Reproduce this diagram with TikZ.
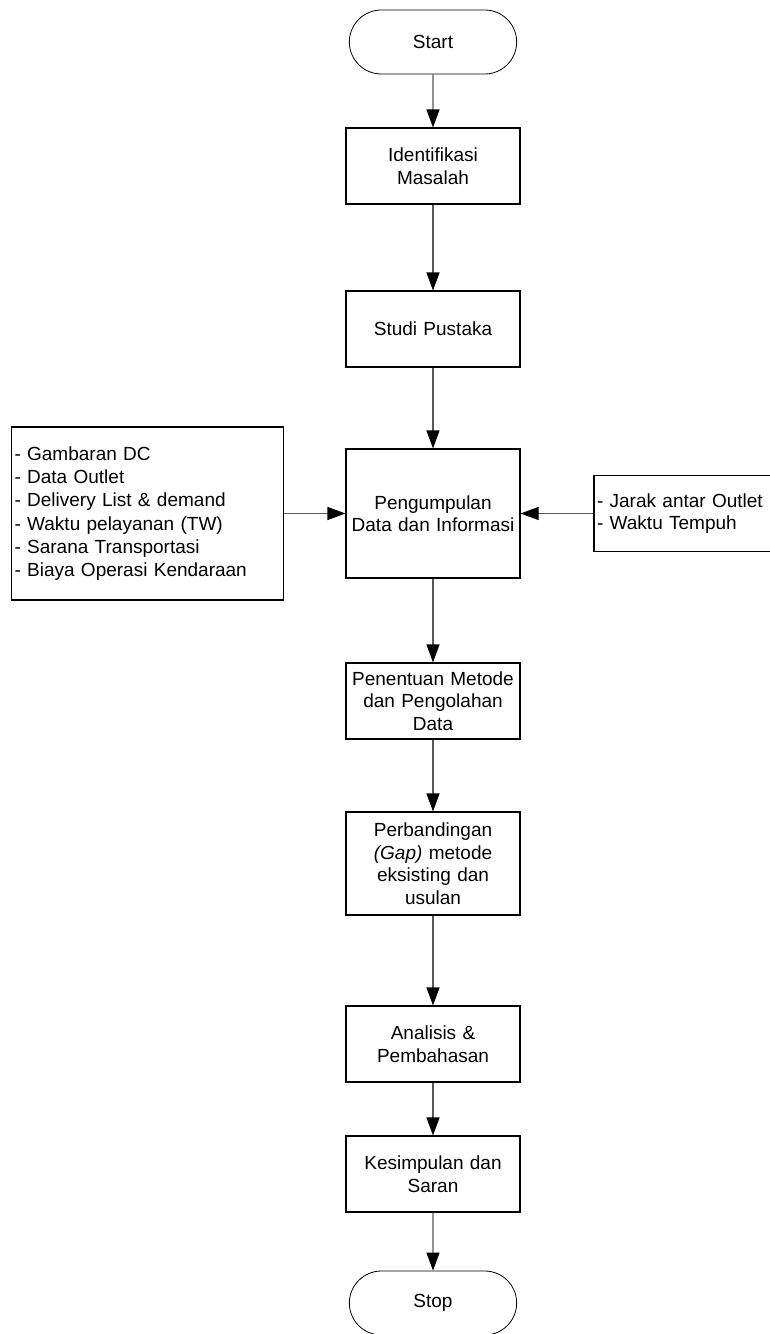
\documentclass[tikz,border=0pt]{standalone}
\usepackage{fontspec}
\setmainfont{Liberation Sans}
\usetikzlibrary{arrows.meta, shapes.misc}

\begin{document}
\begin{tikzpicture}[x=1pt, y=-1pt, >={Triangle[length=18pt, width=13pt, color=black]},
    teks/.style={font=\fontsize{19}{22.5}\selectfont},
    proses/.style={teks, draw, line width=1.1pt, minimum width=174pt, text width=166pt, align=center, inner sep=3pt},
    terminal/.style={teks, draw, line width=0.8pt, rounded rectangle, minimum width=174pt, minimum height=64pt},
    daftar/.style={teks, draw, line width=1.1pt, align=left, inner sep=3pt},
    alur/.style={->, line width=1.1pt, draw=black!65}]
    \useasboundingbox (0,0) rectangle (769,1334);
    % alur utama
    \node[terminal] (start) at (433,42) {Start};
    \node[proses, minimum height=76pt] (identifikasi) at (433,166) {Identifikasi\\Masalah};
    \node[proses, minimum height=76pt] (studi) at (433,329) {Studi Pustaka};
    \node[proses, minimum height=129pt] (kumpul) at (433,513.5) {Pengumpulan\\Data dan Informasi};
    \node[proses, minimum height=76pt] (metode) at (433,701) {Penentuan Metode\\dan Pengolahan\\Data};
    \node[proses, minimum height=103pt] (banding) at (433,863.5) {Perbandingan\\\textit{(Gap)} metode\\eksisting dan\\usulan};
    \node[proses, minimum height=76pt] (analisis) at (433,1044) {Analisis \&\\Pembahasan};
    \node[proses, minimum height=76pt] (simpul) at (433,1174) {Kesimpulan dan\\Saran};
    \node[terminal] (stop) at (433,1303) {Stop};
    % data masukan
    \node[daftar, minimum width=272pt, minimum height=173pt, text width=266pt,
        font=\fontsize{19}{23.3}\selectfont] (data) at (147.5,513.5) {- Gambaran DC\\- Data Outlet\\- Delivery List \& demand\\- Waktu pelayanan (TW)\\- Sarana Transportasi\\- Biaya Operasi Kendaraan};
    \node[daftar, minimum width=185pt, minimum height=76pt, text width=179pt] (jarak) at (686.5,513.5) {- Jarak antar Outlet\\- Waktu Tempuh};
    \draw[alur] (start) -- (identifikasi);
    \draw[alur] (identifikasi) -- (studi);
    \draw[alur] (studi) -- (kumpul);
    \draw[alur] (kumpul) -- (metode);
    \draw[alur] (metode) -- (banding);
    \draw[alur] (banding) -- (analisis);
    \draw[alur] (analisis) -- (simpul);
    \draw[alur] (simpul) -- (stop);
    \draw[alur] (data) -- (kumpul);
    \draw[alur] (jarak) -- (kumpul);
\end{tikzpicture}
\end{document}
